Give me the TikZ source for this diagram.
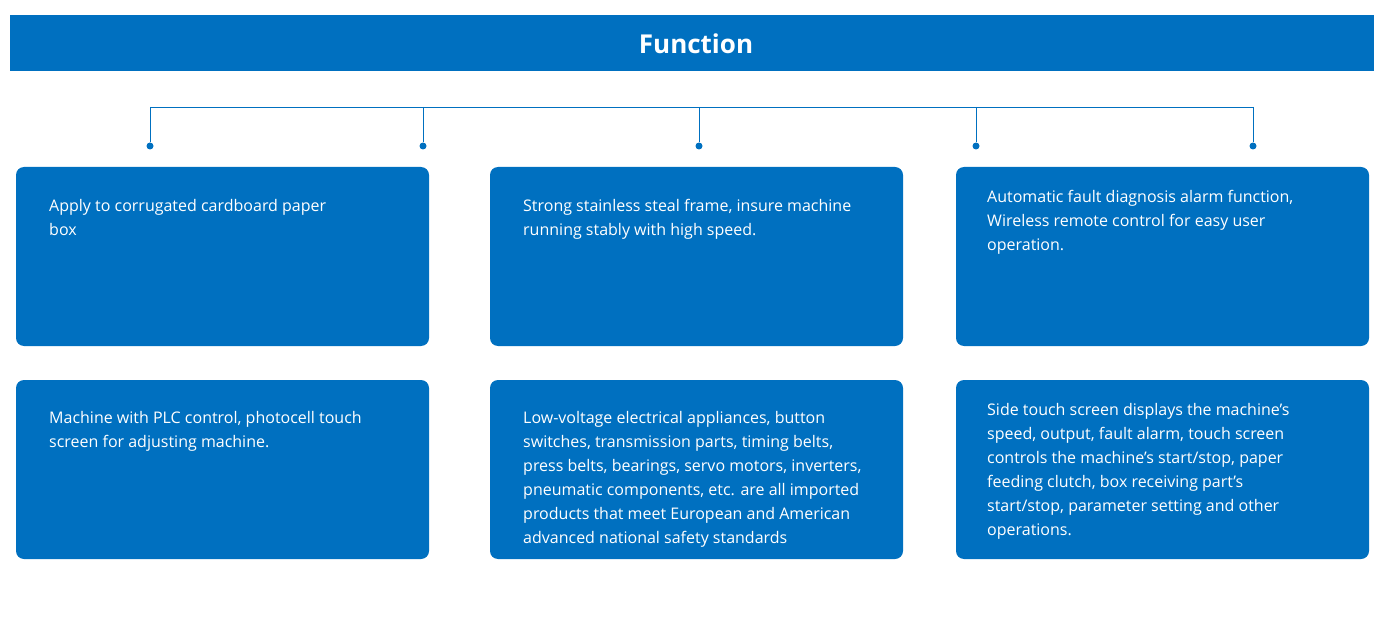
\documentclass[tikz,border=0pt]{standalone}
\usepackage{fontspec}
\setmainfont{Open Sans}
\definecolor{blu}{HTML}{0070C0}
\begin{document}
\begin{tikzpicture}[x=1pt,y=-1pt,
 box/.style={fill=blu,rounded corners=8pt},
 txt/.style={anchor=north west,text=white,font=\fontsize{16}{24}\selectfont,align=left,inner sep=0pt},
 con/.style={draw=blu,line width=0.8pt},
 dot/.style={circle,fill=blu,inner sep=0pt,minimum size=7pt}]
\useasboundingbox (0,0) rectangle (1387,631);
\fill[blu] (10,15) rectangle (1374,71);
\node[text=white,font=\fontsize{26}{30}\selectfont\bfseries] (title) at (696,44) {Function};
\foreach \i/\x in {1/150,2/423,3/699,4/976,5/1253}{
 \node[dot] (d\i) at (\x,146) {};
 \coordinate (t\i) at (\x,107);
 \draw[con] (t\i) -- (d\i);}
\draw[con] (t1) -- (t5);
\fill[box] (16,167) rectangle (429,346);
\fill[box] (490,167) rectangle (903,346);
\fill[box] (956,167) rectangle (1369,346);
\fill[box] (16,380) rectangle (429,559);
\fill[box] (490,380) rectangle (903,559);
\fill[box] (956,380) rectangle (1369,559);
\node[txt] (a) at (49,199) {Apply to corrugated cardboard paper\\box};
\node[txt] (b) at (523,199) {Strong stainless steal frame, insure machine\\running stably with high speed.};
\node[txt] (c) at (987,190) {Automatic fault diagnosis alarm function,\\Wireless remote control for easy user\\operation.};
\node[txt] (d) at (49,411) {Machine with PLC control, photocell touch\\screen for adjusting machine.};
\node[txt] (e) at (523,411) {Low-voltage electrical appliances, button\\switches, transmission parts, timing belts,\\press belts, bearings, servo motors, inverters,\\pneumatic components, etc. are all imported\\products that meet European and American\\advanced national safety standards};
\node[txt] (f) at (987,403) {Side touch screen displays the machine's\\speed, output, fault alarm, touch screen\\controls the machine's start/stop, paper\\feeding clutch, box receiving part's\\start/stop, parameter setting and other\\operations.};
\end{tikzpicture}
\end{document}
